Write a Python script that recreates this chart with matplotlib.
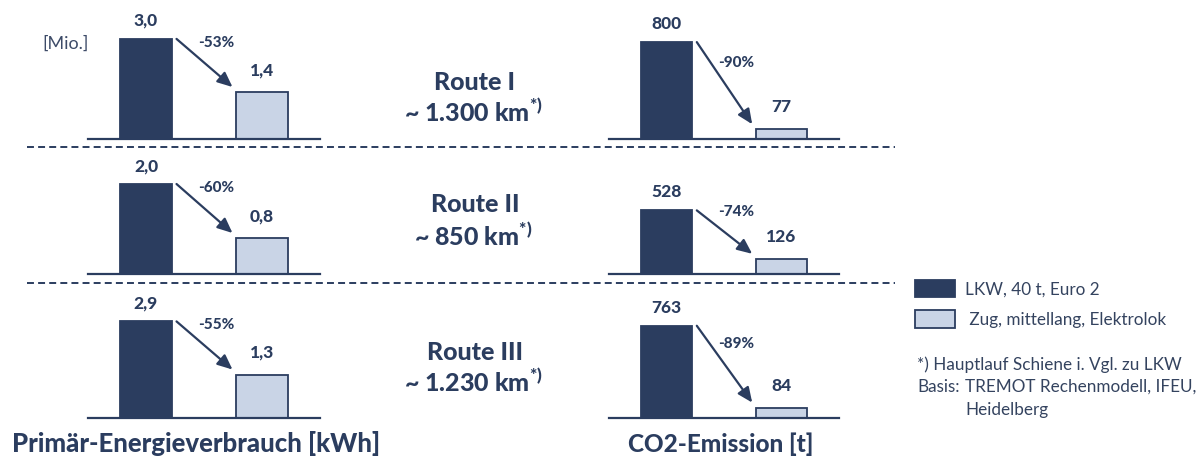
import matplotlib
matplotlib.use('Agg')
import matplotlib.pyplot as plt
from matplotlib.lines import Line2D
from matplotlib.patches import Patch

plt.rcParams['font.family'] = ['Lato', 'DejaVu Sans']
plt.rcParams['mathtext.fontset'] = 'custom'
plt.rcParams['mathtext.rm'] = 'Lato'
plt.rcParams['mathtext.bf'] = 'Lato:black'
plt.rcParams['lines.scale_dashes'] = False

# ---------------- data ----------------
routes = ['Route I', 'Route II', 'Route III']
distances = ['~ 1.300 km', '~ 850 km', '~ 1.230 km']
series = ['LKW, 40 t, Euro 2', 'Zug, mittellang, Elektrolok']
energy_lkw = [3.0, 2.0, 2.9]
energy_zug = [1.4, 0.8, 1.3]
energy_change = ['-53%', '-60%', '-55%']
co2_lkw = [800, 528, 763]
co2_zug = [77, 126, 84]
co2_change = ['-90%', '-74%', '-89%']
energy_title = 'Primär-Energieverbrauch [kWh]'
co2_title = 'CO2-Emission [t]'
unit_label = '[Mio.]'
footnote1 = '*) Hauptlauf Schiene i. Vgl. zu LKW'
footnote2 = ['Basis:', 'TREMOT Rechenmodell, IFEU,', 'Heidelberg']

# ---------------- style / layout ----------------
NAVY = '#2b3d5f'
LIGHT = '#c9d4e6'
TXT = '#2b3d5f'
TXT2 = '#34435f'
HEAVY = 'black'
W, H = 1202, 459
AX_H = 100.0
row_base = [138.5, 274.0, 417.7]
left_x = (88, 320)
right_x = (609, 839)
left_pxunit = [33.2, 45.0, 33.2]
right_pxunit = [0.1205, 0.1205, 0.1205]
BW = 0.44

fig = plt.figure(figsize=(W / 100, H / 100), dpi=100)


def fx(x):
    return x / W


def fy(y):
    return 1 - y / H


def fmt_energy(v):
    return f'{v:.1f}'.replace('.', ',')


def fmt_co2(v):
    return f'{v:d}'


def panel(x_range, base, pxunit, v_lkw, v_zug, change, fmt):
    x0, x1 = x_range
    ax = fig.add_axes([fx(x0), fy(base), (x1 - x0) / W, AX_H / H])
    top = AX_H / pxunit
    ax.set_xlim(-0.5, 1.5)
    ax.set_ylim(0, top)
    ax.axis('off')
    bars = ax.bar([0, 1], [v_lkw, v_zug], width=BW, color=[NAVY, LIGHT],
                  edgecolor=NAVY, linewidth=1.3, zorder=2)
    for b in bars:
        b.set_clip_on(False)
    ax.axhline(0, color=NAVY, lw=1.6, clip_on=False, zorder=3)
    dxp = 2.0 / (x1 - x0)   # data units per pixel (x)
    dyp = top / AX_H        # data units per pixel (y)
    start = (BW / 2 + 5 * dxp, v_lkw)
    end = (1 - BW / 2 - 4 * dxp, v_zug + 5 * dyp)
    ax.annotate('', xy=end, xytext=start,
                arrowprops=dict(arrowstyle='-|>,head_length=0.45,head_width=0.2',
                                color=NAVY, lw=1.6, shrinkA=0, shrinkB=0,
                                mutation_scale=20),
                annotation_clip=False)
    ax.annotate(fmt(v_lkw), xy=(0, v_lkw), xytext=(0, 18), textcoords='offset pixels',
                ha='center', va='center', fontsize=12.5, fontweight=HEAVY, color=TXT,
                annotation_clip=False)
    ax.annotate(fmt(v_zug), xy=(1, v_zug), xytext=(0, 22), textcoords='offset pixels',
                ha='center', va='center', fontsize=12.5, fontweight=HEAVY, color=TXT,
                annotation_clip=False)
    mid = (0.5, (v_lkw + v_zug) / 2 + 2.5 * dyp)
    ax.annotate(change, xy=mid, xytext=(12, 20), textcoords='offset pixels',
                ha='center', va='center', fontsize=11, fontweight=HEAVY, color=TXT,
                annotation_clip=False)
    return ax


for i in range(3):
    panel(left_x, row_base[i], left_pxunit[i], energy_lkw[i], energy_zug[i],
          energy_change[i], fmt_energy)
    panel(right_x, row_base[i], right_pxunit[i], co2_lkw[i], co2_zug[i],
          co2_change[i], fmt_co2)

# dashed separators
for y in [147, 282.5]:
    fig.add_artist(Line2D([fx(27), fx(895)], [fy(y), fy(y)], transform=fig.transFigure,
                          color=NAVY, lw=1.4, linestyle=(0, (5.0, 3.0))))

# route texts
route_y = [(82, 112), (205, 236), (353, 382)]
for i in range(3):
    fig.text(fx(475), fy(route_y[i][0]), routes[i], ha='center', va='center',
             fontsize=18, fontweight=HEAVY, color=TXT)
    fig.text(fx(473), fy(route_y[i][1]), distances[i] + r'$^{\mathbf{*)}}$',
             ha='center', va='center', fontsize=18, fontweight=HEAVY, color=TXT)

# unit label
fig.text(fx(42), fy(44), unit_label, ha='left', va='center', fontsize=13, color='#3d4b68')

# bottom titles
fig.text(fx(12), fy(444), energy_title, ha='left', va='center', fontsize=18.5,
         fontweight=HEAVY, color=TXT)
fig.text(fx(721), fy(444), co2_title, ha='center', va='center', fontsize=17.5,
         fontweight=HEAVY, color=TXT)

# legend
handles = [Patch(facecolor=NAVY, edgecolor=NAVY, linewidth=1.3),
           Patch(facecolor=LIGHT, edgecolor=NAVY, linewidth=1.3)]
fig.legend(handles, [series[0], ' ' + series[1]], loc='upper left',
           bbox_to_anchor=(fx(915), fy(280)), bbox_transform=fig.transFigure,
           frameon=False, fontsize=12.3, handlelength=40 / 17.1, handleheight=20 / 17.1,
           labelspacing=13 / 17.1, handletextpad=10 / 17.1, borderpad=0, borderaxespad=0,
           labelcolor=TXT2)

fig.text(fx(917), fy(365), footnote1, ha='left', va='center', fontsize=12.3, color=TXT2)
fig.text(fx(917), fy(387), footnote2[0], ha='left', va='center', fontsize=12.3, color=TXT2)
fig.text(fx(965), fy(387), footnote2[1], ha='left', va='center', fontsize=12.3, color=TXT2)
fig.text(fx(965), fy(410), footnote2[2], ha='left', va='center', fontsize=12.3, color=TXT2)

fig.savefig('out.png', dpi=100)
